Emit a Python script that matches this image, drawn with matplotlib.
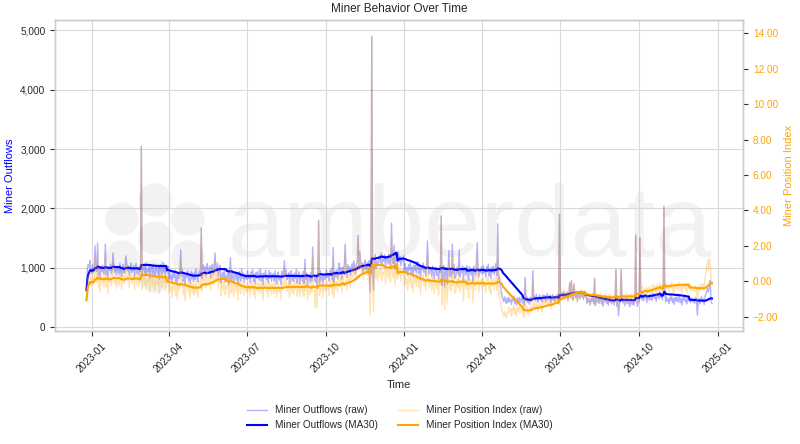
import numpy as np
import pandas as pd
import matplotlib
matplotlib.use("Agg")
import matplotlib.pyplot as plt
import matplotlib.dates as mdates
from matplotlib.ticker import FuncFormatter, StrMethodFormatter
from matplotlib.patches import Circle

plt.rcParams['font.family'] = ['Liberation Sans', 'DejaVu Sans']

# daily values, first day of data
start_date = "2022-12-26"

# miner outflows (raw), one line per month
outflows_raw = [
    620, 980, 1050, 1010, 1120, 940,
    900, 1050, 920, 980, 1370, 1030, 940, 1420, 870, 990, 830, 1020, 930, 1040, 890, 970, 1400, 880, 1000, 810, 1010, 950, 1060, 900, 980, 1250, 1050, 920, 1020, 870, 990,
    1020, 890, 1070, 940, 850, 1010, 1050, 910, 980, 1200, 1060, 950, 1030, 870, 1000, 1080, 920, 960, 1040, 840, 990, 1070, 900, 1010, 880, 1030, 940, 3050,
    860, 990, 1030, 910, 1080, 870, 970, 940, 1050, 830, 1000, 1020, 890, 1060, 920, 850, 1040, 980, 900, 1010, 810, 1050, 960, 880, 1090, 930, 1020, 860, 1000, 940, 1030,
    790, 940, 810, 870, 740, 920, 830, 960, 760, 880, 720, 910, 820, 930, 1300, 860, 970, 770, 890, 700, 900, 840, 950, 790, 870, 730, 940, 810, 910, 760,
    930, 800, 980, 850, 760, 920, 960, 900, 1670, 820, 1050, 940, 1020, 860, 990, 1070, 910, 950, 1030, 830, 980, 1060, 890, 1000, 1250, 1020, 930, 1080, 850, 970, 1040,
    750, 880, 920, 800, 970, 760, 860, 830, 940, 720, 890, 1170, 780, 950, 810, 740, 930, 870, 790, 900, 700, 940, 850, 770, 980, 820, 910, 750, 890, 830,
    800, 950, 820, 880, 750, 930, 840, 970, 770, 890, 730, 920, 830, 940, 790, 870, 980, 780, 900, 710, 910, 850, 960, 800, 880, 740, 950, 820, 920, 770, 890,
    900, 770, 950, 820, 730, 890, 930, 790, 860, 710, 940, 830, 910, 1120, 880, 960, 800, 840, 920, 720, 870, 950, 780, 890, 760, 910, 820, 970, 740, 860, 930,
    720, 850, 890, 770, 940, 730, 1140, 800, 910, 690, 860, 880, 750, 920, 780, 1350, 900, 840, 760, 870, 670, 910, 1790, 740, 950, 790, 880, 720, 860, 800,
    820, 970, 840, 900, 770, 950, 860, 990, 790, 1340, 750, 940, 850, 960, 810, 970, 1080, 880, 1000, 810, 1010, 950, 1060, 1400, 980, 840, 1050, 920, 1020, 870, 990,
    1070, 940, 1120, 990, 900, 1060, 1100, 1540, 1030, 1270, 1110, 1000, 1080, 920, 1050, 1130, 970, 1010, 1090, 890, 1120, 590, 1030, 4900, 1010, 620, 1070, 1220, 990, 1110,
    1030, 1160, 1200, 1080, 1250, 1040, 1140, 1110, 1220, 1000, 1170, 1190, 1060, 1230, 1090, 1020, 1750, 1150, 1070, 1380, 980, 1220, 1130, 1050, 1260, 1100, 1190, 1030, 1170, 1110, 1200,
    920, 1070, 940, 1000, 870, 1050, 960, 1090, 890, 1010, 850, 1040, 950, 1060, 910, 990, 1100, 900, 1020, 830, 1030, 970, 1080, 920, 1000, 860, 1070, 1450, 1040, 890, 1010,
    980, 850, 1030, 900, 810, 970, 1010, 870, 940, 790, 1020, 910, 1870, 700, 960, 1040, 680, 920, 1000, 720, 950, 1290, 860, 970, 840, 1400, 900, 1050, 820,
    840, 970, 1010, 890, 1300, 850, 950, 920, 1030, 760, 980, 1000, 870, 1040, 900, 780, 1020, 960, 880, 990, 740, 1030, 940, 860, 1070, 1420, 1000, 840, 980, 920, 1010,
    890, 1040, 910, 970, 840, 1020, 930, 1060, 860, 980, 820, 1010, 920, 1030, 880, 960, 1070, 870, 1740, 800, 850, 700, 620, 520, 480, 430, 510, 450, 400, 490,
    410, 500, 430, 460, 380, 490, 440, 520, 400, 470, 370, 490, 430, 500, 410, 460, 520, 400, 470, 360, 840, 440, 510, 410, 460, 380, 500, 430, 490, 950, 470,
    520, 440, 550, 470, 420, 510, 540, 450, 500, 410, 540, 480, 530, 430, 510, 560, 460, 480, 530, 410, 500, 550, 450, 510, 440, 530, 470, 560, 420, 1900,
    470, 550, 570, 500, 600, 480, 540, 520, 580, 450, 550, 740, 490, 780, 510, 460, 720, 540, 490, 560, 440, 580, 530, 480, 610, 510, 570, 470, 550, 520, 570,
    400, 490, 420, 450, 370, 480, 430, 510, 390, 820, 360, 480, 420, 490, 400, 450, 510, 390, 460, 350, 470, 430, 500, 400, 450, 370, 490, 420, 480, 390, 460,
    450, 370, 480, 970, 350, 440, 190, 380, 430, 970, 470, 410, 460, 360, 440, 490, 390, 410, 460, 340, 430, 480, 380, 440, 370, 460, 1540, 490, 350, 430,
    430, 1500, 530, 460, 560, 440, 500, 480, 540, 410, 510, 530, 450, 550, 470, 450, 570, 530, 480, 550, 430, 570, 520, 470, 600, 500, 560, 460, 540, 2040, 560,
    420, 510, 440, 470, 390, 500, 450, 530, 410, 480, 380, 500, 440, 510, 420, 470, 530, 410, 480, 370, 490, 450, 520, 420, 470, 390, 510, 440, 500, 410,
    450, 490, 420, 470, 400, 500, 440, 200, 430, 480, 390, 460, 510, 420, 470, 380, 520, 560, 610, 650, 590, 720, 790, 420, 400,
]

# miner position index (raw), one line per month
mpi_raw = [
    -1.07, -0.05, 0.35, 0.10, 0.55, -0.20,
    -0.25, 0.36, -0.15, 0.12, 1.44, 0.29, -0.05, 1.61, -0.40, 0.15, -0.60, 0.25, -0.10, 0.32, -0.30, 0.08, 1.55, -0.35, 0.19, -0.70, 0.22, 0.00, 0.39, -0.25, 0.12, 1.04, 0.36, -0.15, 0.25, -0.40, 0.15,
    0.32, -0.25, 0.49, 0.00, -0.45, 0.29, 0.42, -0.15, 0.18, 0.93, 0.46, 0.05, 0.35, -0.35, 0.25, 0.52, -0.10, 0.10, 0.39, -0.50, 0.22, 0.49, -0.20, 0.29, -0.30, 0.35, 0.00, 7.40,
    -0.45, 0.15, 0.29, -0.20, 0.46, -0.40, 0.08, -0.05, 0.36, -0.60, 0.19, 0.25, -0.30, 0.39, -0.15, -0.50, 0.32, 0.12, -0.25, 0.22, -0.70, 0.36, 0.05, -0.35, 0.49, -0.10, 0.25, -0.45, 0.19, -0.05, 0.29,
    -0.65, -0.04, -0.55, -0.28, -0.90, -0.11, -0.45, 0.02, -0.80, -0.25, -1.00, -0.15, -0.50, -0.08, 1.18, -0.32, 0.06, -0.75, -0.21, -1.10, -0.18, -0.40, -0.01, -0.65, -0.28, -0.95, -0.04, -0.55, -0.15, -0.80,
    -0.13, -0.70, 0.04, -0.45, -0.90, -0.16, -0.03, -0.15, 3.00, -0.55, 0.46, 0.05, 0.35, -0.35, 0.25, 0.52, -0.10, 0.10, 0.39, -0.50, 0.22, 0.49, -0.20, 0.29, 1.14, 0.35, 0.00, 0.56, -0.40, 0.18, 0.42,
    -0.80, -0.20, -0.06, -0.55, 0.11, -0.75, -0.27, -0.40, 0.01, -0.95, -0.16, 0.79, -0.65, 0.04, -0.50, -0.85, -0.03, -0.23, -0.60, -0.13, -1.05, 0.01, -0.30, -0.70, 0.14, -0.45, -0.10, -0.80, -0.16, -0.40,
    -0.60, 0.01, -0.50, -0.23, -0.85, -0.06, -0.40, 0.07, -0.75, -0.20, -0.95, -0.10, -0.45, -0.03, -0.65, -0.27, 0.11, -0.70, -0.16, -1.05, -0.13, -0.35, 0.04, -0.60, -0.23, -0.90, 0.01, -0.50, -0.10, -0.75, -0.20,
    -0.13, -0.70, 0.04, -0.45, -0.90, -0.16, -0.03, -0.60, -0.27, -1.00, 0.01, -0.40, -0.10, 0.62, -0.20, 0.07, -0.55, -0.35, -0.06, -0.95, -0.23, 0.04, -0.65, -0.16, -0.75, -0.10, -0.45, 0.11, -0.85, -0.27, -0.03,
    -0.90, -0.30, -0.16, -0.65, 0.01, -0.85, 0.69, -0.50, -0.09, -1.05, -0.26, -0.20, -0.75, -0.06, -0.60, 1.40, -0.13, -0.33, -1.45, -0.23, -1.50, -0.09, 3.50, -0.80, 0.04, -0.55, -0.20, -0.90, -0.26, -0.50,
    -0.55, 0.06, -0.45, -0.18, -0.80, -0.01, -0.35, 0.12, -0.70, 1.31, -0.90, -0.05, -0.40, 0.02, -0.60, 0.13, 0.51, -0.30, 0.24, -0.65, 0.27, 0.05, 0.44, 1.60, 0.17, -0.50, 0.41, -0.10, 0.30, -0.35, 0.20,
    0.77, 0.20, 0.94, 0.45, 0.00, 0.74, 0.87, 2.37, 0.63, 1.45, 0.91, 0.50, 0.80, 0.10, 0.70, 0.97, 0.35, 0.55, 0.84, -0.05, 0.77, -1.90, 0.35, 13.85, 0.25, -1.70, 0.55, 1.11, 0.15, 0.73,
    0.00, 0.60, 0.74, 0.25, 0.91, 0.05, 0.53, 0.40, 0.81, -0.15, 0.64, 0.70, 0.15, 0.84, 0.30, -0.05, 2.61, 0.57, 0.20, 1.35, -0.25, 0.81, 0.50, 0.10, 0.94, 0.35, 0.70, 0.00, 0.64, 0.40, 0.74,
    -0.25, 0.36, -0.15, 0.12, -0.50, 0.29, -0.05, 0.42, -0.40, 0.15, -0.60, 0.25, -0.10, 0.32, -0.30, 0.08, 0.46, -0.35, 0.19, -0.70, 0.22, 0.00, 0.39, -0.25, 0.12, -0.55, 0.36, 1.65, 0.25, -0.40, 0.15,
    0.07, -0.50, 0.24, -0.25, -0.70, 0.04, 0.17, -0.40, -0.07, -0.80, 0.21, -0.20, 3.70, -1.30, 0.00, 0.27, -1.60, -0.15, 0.14, -1.20, -0.03, 1.12, -0.45, 0.04, -0.55, 1.50, -0.25, 0.31, -0.65,
    -0.60, 0.00, 0.14, -0.35, 1.12, -0.55, -0.07, -0.20, 0.21, -1.10, 0.04, 0.10, -0.45, 0.24, -0.30, -0.95, 0.17, -0.03, -0.40, 0.07, -1.20, 0.21, -0.10, -0.50, 0.34, 1.53, 0.10, -0.60, 0.04, -0.20, 0.14,
    -0.40, 0.21, -0.30, -0.03, -0.65, 0.14, -0.20, 0.27, -0.55, 0.00, -0.75, 0.10, -0.25, 0.17, -0.45, -0.07, 0.31, -0.50, 2.50, -0.85, -0.60, -1.10, -1.40, -1.65, -1.80, -2.00, -1.70, -1.90, -2.05, -1.75,
    -1.80, -1.43, -1.70, -1.57, -1.95, -1.46, -1.65, -1.36, -1.85, -1.53, -2.00, -1.46, -1.70, -1.43, -1.80, -1.57, -1.36, -1.85, -1.53, -2.05, -0.27, -1.65, -1.40, -1.80, -1.57, -1.95, -1.43, -1.70, -1.46, 0.10, -1.53,
    -1.25, -1.60, -1.15, -1.45, -1.70, -1.28, -1.18, -1.55, -1.32, -1.75, -0.98, -1.20, -1.01, -1.45, -1.08, -0.91, -1.30, -1.20, -1.01, -1.55, -0.97, -0.80, -1.20, -0.93, -1.25, -0.86, -1.10, -0.76, -1.35, 3.80,
    -1.05, -0.68, -0.61, -0.90, -0.51, -1.00, -0.72, -0.80, -0.58, -1.15, -0.68, -0.04, -0.95, 0.10, -0.85, -1.10, -0.10, -0.72, -0.95, -0.65, -1.20, -0.58, -0.75, -1.00, -0.48, -0.85, -0.61, -1.05, -0.68, -0.80, -0.61,
    -1.10, -0.73, -1.00, -0.87, -1.25, -0.76, -0.95, -0.66, -1.15, 0.20, -1.30, -0.76, -1.00, -0.73, -1.10, -0.87, -0.66, -1.15, -0.83, -1.35, -0.80, -0.95, -0.70, -1.10, -0.87, -1.25, -0.73, -1.00, -0.76, -1.15, -0.83,
    -0.80, -1.15, -0.70, 0.65, -1.25, -0.83, -1.60, -1.10, -0.87, 0.65, -0.73, -0.95, -0.76, -1.20, -0.83, -0.66, -1.05, -0.95, -0.76, -1.30, -0.87, -0.70, -1.10, -0.83, -1.15, -0.76, 2.70, -0.66, -1.25, -0.87,
    -0.80, 2.50, -0.36, -0.65, -0.26, -0.75, -0.47, -0.55, -0.33, -0.90, -0.43, -0.36, -0.70, -0.30, -0.60, -0.70, -0.18, -0.32, -0.55, -0.25, -0.80, -0.18, -0.35, -0.60, -0.08, -0.45, -0.21, -0.65, -0.28, 4.20, -0.21,
    -0.50, -0.13, -0.40, -0.27, -0.65, -0.16, -0.35, -0.06, -0.55, -0.23, -0.70, -0.16, -0.40, -0.13, -0.50, -0.27, -0.06, -0.55, -0.23, -0.75, -0.20, -0.35, -0.10, -0.50, -0.27, -0.65, -0.13, -0.40, -0.16, -0.55,
    -0.45, -0.30, -0.55, -0.35, -0.60, -0.25, -0.45, -1.20, -0.40, -0.20, -0.55, -0.30, -0.10, -0.40, -0.15, -0.50, 0.20, 0.50, 0.80, 1.20, 0.60, 1.30, 1.10, 0.30, -0.20,
]

out = pd.Series(outflows_raw, index=pd.date_range(start_date, periods=len(outflows_raw), freq="D"))
mpi = pd.Series(mpi_raw, index=pd.date_range(start_date, periods=len(mpi_raw), freq="D"))
out_ma = out.rolling(30, min_periods=1).mean()
mpi_ma = mpi.rolling(30, min_periods=1).mean()

text_col = "#262626"
spine_col = "#cccccc"
wm_col = "#f2f2f2"

fig = plt.figure(figsize=(8, 4.44), dpi=100)
ax1 = fig.add_axes([0.069, 0.2545, 0.86, 0.6995])

# watermark (logo dots + word), drawn behind everything
logo = [(1.55, 2.06), (1.55, 2.44), (1.88, 2.25), (1.88, 1.87), (1.55, 1.68), (1.22, 1.87), (1.22, 2.25)]
for cx, cy in logo:
    ax1.add_patch(Circle((cx, cy), 0.16, transform=fig.dpi_scale_trans, color=wm_col, zorder=0, clip_on=False))
ax1.text(2.28, 1.88, "amberdata", transform=fig.dpi_scale_trans, fontsize=73, color=wm_col,
         ha="left", va="baseline", zorder=0)

l1, = ax1.plot(out.index, out.values, color="blue", alpha=0.3, lw=1, label="Miner Outflows (raw)")
l2, = ax1.plot(out_ma.index, out_ma.values, color="blue", lw=1.5, label="Miner Outflows (MA30)")

ax2 = ax1.twinx()
l3, = ax2.plot(mpi.index, mpi.values, color="orange", alpha=0.3, lw=1, label="Miner Position Index (raw)")
l4, = ax2.plot(mpi_ma.index, mpi_ma.values, color="orange", lw=1.5, label="Miner Position Index (MA30)")

ax1.set_ylim(-67, 5168)
ax2.set_ylim(-2.8, 14.72)
ax1.set_yticks(np.arange(0, 5001, 1000))
ax2.set_yticks(np.arange(-2, 15, 2))
ax1.yaxis.set_major_formatter(FuncFormatter(lambda v, p: f"{v:,.0f}"))
ax2.yaxis.set_major_formatter(StrMethodFormatter("{x:.2f}"))

ax1.xaxis.set_major_locator(mdates.MonthLocator(bymonth=[1, 4, 7, 10]))
ax1.xaxis.set_major_formatter(mdates.DateFormatter("%Y-%m"))

ax1.set_axisbelow(True)
ax1.grid(True, color="#d9d9d9", lw=0.8)
ax2.grid(False)

for ax in (ax1, ax2):
    for s in ax.spines.values():
        s.set_color(spine_col)
        s.set_linewidth(1.0)
    ax.tick_params(length=3.5, width=0.8, color="#333333", labelsize=7.2, labelcolor=text_col)

ax1.tick_params(axis="x", labelrotation=45)
ax2.tick_params(axis="y", labelcolor="orange")

ax1.set_xlabel("Time", fontsize=8, color=text_col)
ax1.set_ylabel("Miner Outflows", fontsize=8, color="blue")
ax2.set_ylabel("Miner Position Index", fontsize=8, color="orange")
ax1.set_title("Miner Behavior Over Time", fontsize=8.5, color=text_col)

fig.legend([l1, l2, l3, l4], [l.get_label() for l in (l1, l2, l3, l4)],
           loc="center", bbox_to_anchor=(0.5, 0.059), ncol=2, frameon=False,
           fontsize=7.2, columnspacing=2.0, labelcolor=text_col)

fig.savefig("out.png", dpi=100)
